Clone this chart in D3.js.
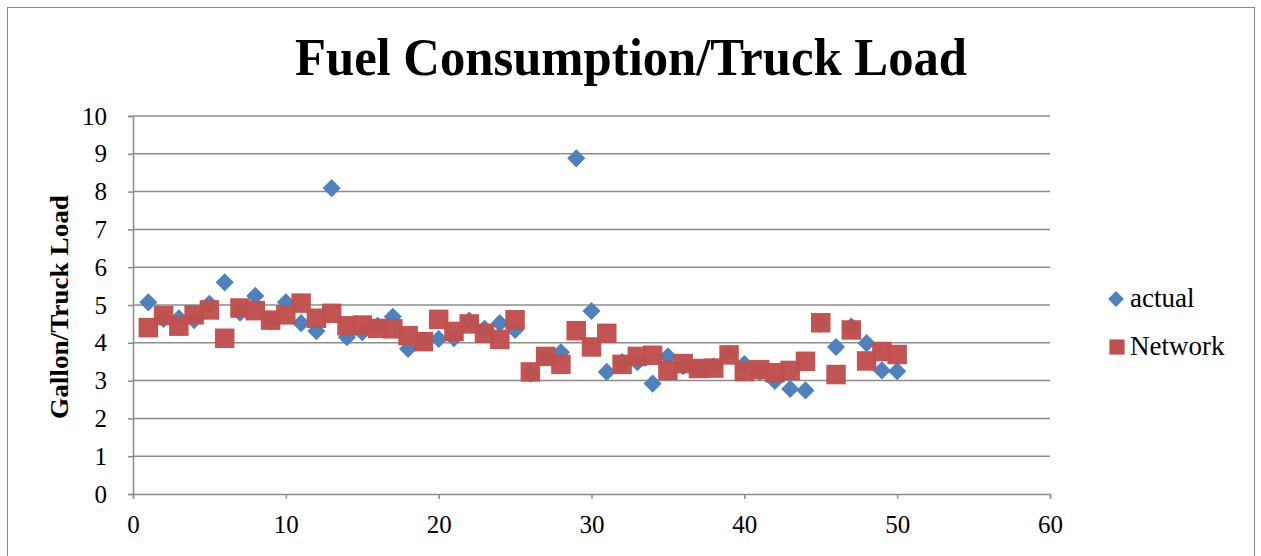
<!DOCTYPE html>
<html>
<head>
<meta charset="utf-8">
<script src="https://cdn.jsdelivr.net/npm/d3@7"></script>
<style>
  html, body { margin: 0; padding: 0; background: #fff; }
  svg { display: block; }
</style>
</head>
<body>
<svg id="chart" width="1261" height="556"></svg>
<script>
// Truck index 1..50
const trucks = d3.range(1, 51);

// Measured fuel use per truck load
const actual = [
  5.07, 4.63, 4.65, 4.60, 5.03, 5.60, 4.80, 5.24, 4.56, 5.07,
  4.52, 4.31, 8.09, 4.15, 4.28, 4.45, 4.69, 3.84, 4.06, 4.10,
  4.12, 4.59, 4.37, 4.52, 4.34, 3.18, 3.62, 3.75, 8.88, 4.84,
  3.23, 3.49, 3.49, 2.92, 3.64, 3.38, 3.32, 3.38, 3.70, 3.44,
  3.23, 2.99, 2.78, 2.74, 4.50, 3.89, 4.43, 3.99, 3.27, 3.25
];

// Network model estimate
const network = [
  4.40, 4.72, 4.44, 4.74, 4.87, 4.12, 4.92, 4.85, 4.60, 4.74,
  5.05, 4.65, 4.78, 4.45, 4.47, 4.38, 4.37, 4.19, 4.03, 4.62,
  4.30, 4.50, 4.25, 4.09, 4.61, 3.23, 3.64, 3.43, 4.32, 3.89,
  4.25, 3.43, 3.64, 3.67, 3.27, 3.45, 3.32, 3.33, 3.68, 3.24,
  3.29, 3.21, 3.27, 3.51, 4.53, 3.16, 4.34, 3.52, 3.77, 3.69
];

const xTicks = [0, 10, 20, 30, 40, 50, 60];
const yTicks = [0, 1, 2, 3, 4, 5, 6, 7, 8, 9, 10];
const seriesNames = ["actual", "Network"];
const seriesColors = ["#4F81BD", "#C0504D"];

const svg = d3.select("#chart");
const font = "'Liberation Serif', 'DejaVu Serif', serif";

// outer frame
svg.append("rect")
  .attr("x", 7.5).attr("y", 7.5)
  .attr("width", 1247).attr("height", 560)
  .attr("fill", "#fff").attr("stroke", "#8a8a8a").attr("stroke-width", 1);

const x = d3.scaleLinear().domain([0, 60]).range([133, 1050]);
const y = d3.scaleLinear().domain([0, 10]).range([494, 116]);

// horizontal gridlines
svg.append("g")
  .selectAll("line")
  .data(yTicks.filter(d => d > 0))
  .join("line")
  .attr("x1", x(0)).attr("x2", x(60))
  .attr("y1", d => y(d)).attr("y2", d => y(d))
  .attr("stroke", "#8c8c8c").attr("stroke-width", 1.5);

// axes
const yAxis = d3.axisLeft(y).tickValues(yTicks).tickSize(5).tickPadding(21).tickFormat(d3.format("d"));
const xAxis = d3.axisBottom(x).tickValues(xTicks).tickSize(5).tickPadding(16).tickFormat(d3.format("d"));

const gy = svg.append("g").attr("transform", `translate(${x(0)},0)`).call(yAxis);
const gx = svg.append("g").attr("transform", `translate(0,${y(0)})`).call(xAxis);

[gx, gy].forEach(g => {
  g.select(".domain").attr("stroke", "#8c8c8c").attr("stroke-width", 1.5);
  g.selectAll(".tick line").attr("stroke", "#8c8c8c").attr("stroke-width", 1.5);
  g.selectAll(".tick text")
    .attr("fill", "#000")
    .style("font-family", font)
    .style("font-size", "25px");
});

// series markers
const diamond = d3.symbol().type(d3.symbolDiamond2).size(210);
const square = d3.symbol().type(d3.symbolSquare).size(380);

svg.append("g")
  .selectAll("path")
  .data(trucks.map((t, i) => ({ t, v: actual[i] })))
  .join("path")
  .attr("d", diamond)
  .attr("transform", d => `translate(${x(d.t)},${y(d.v)})`)
  .attr("fill", seriesColors[0]);

svg.append("g")
  .selectAll("path")
  .data(trucks.map((t, i) => ({ t, v: network[i] })))
  .join("path")
  .attr("d", square)
  .attr("transform", d => `translate(${x(d.t)},${y(d.v)})`)
  .attr("fill", seriesColors[1])
  .attr("fill-opacity", 0.97);

// title
svg.append("text")
  .attr("x", 631).attr("y", 75)
  .attr("text-anchor", "middle")
  .attr("textLength", 672)
  .attr("lengthAdjust", "spacingAndGlyphs")
  .style("font-family", font)
  .style("font-weight", "bold")
  .style("font-size", "52px")
  .text("Fuel Consumption/Truck Load");

// y-axis title
svg.append("text")
  .attr("transform", "translate(68,307) rotate(-90)")
  .attr("text-anchor", "middle")
  .attr("textLength", 224)
  .attr("lengthAdjust", "spacingAndGlyphs")
  .style("font-family", font)
  .style("font-weight", "bold")
  .style("font-size", "25px")
  .text("Gallon/Truck Load");

// legend
const legend = svg.append("g");
const legendY = [299, 347];
legend.append("path")
  .attr("d", d3.symbol().type(d3.symbolDiamond2).size(160))
  .attr("transform", `translate(1116,${legendY[0]})`)
  .attr("fill", seriesColors[0]);
legend.append("path")
  .attr("d", d3.symbol().type(d3.symbolSquare).size(230))
  .attr("transform", `translate(1117,${legendY[1]})`)
  .attr("fill", seriesColors[1]);
legend.selectAll("text")
  .data(seriesNames)
  .join("text")
  .attr("x", 1130)
  .attr("y", (d, i) => legendY[i] + 8)
  .style("font-family", font)
  .style("font-size", "27px")
  .text(d => d);
</script>
</body>
</html>
